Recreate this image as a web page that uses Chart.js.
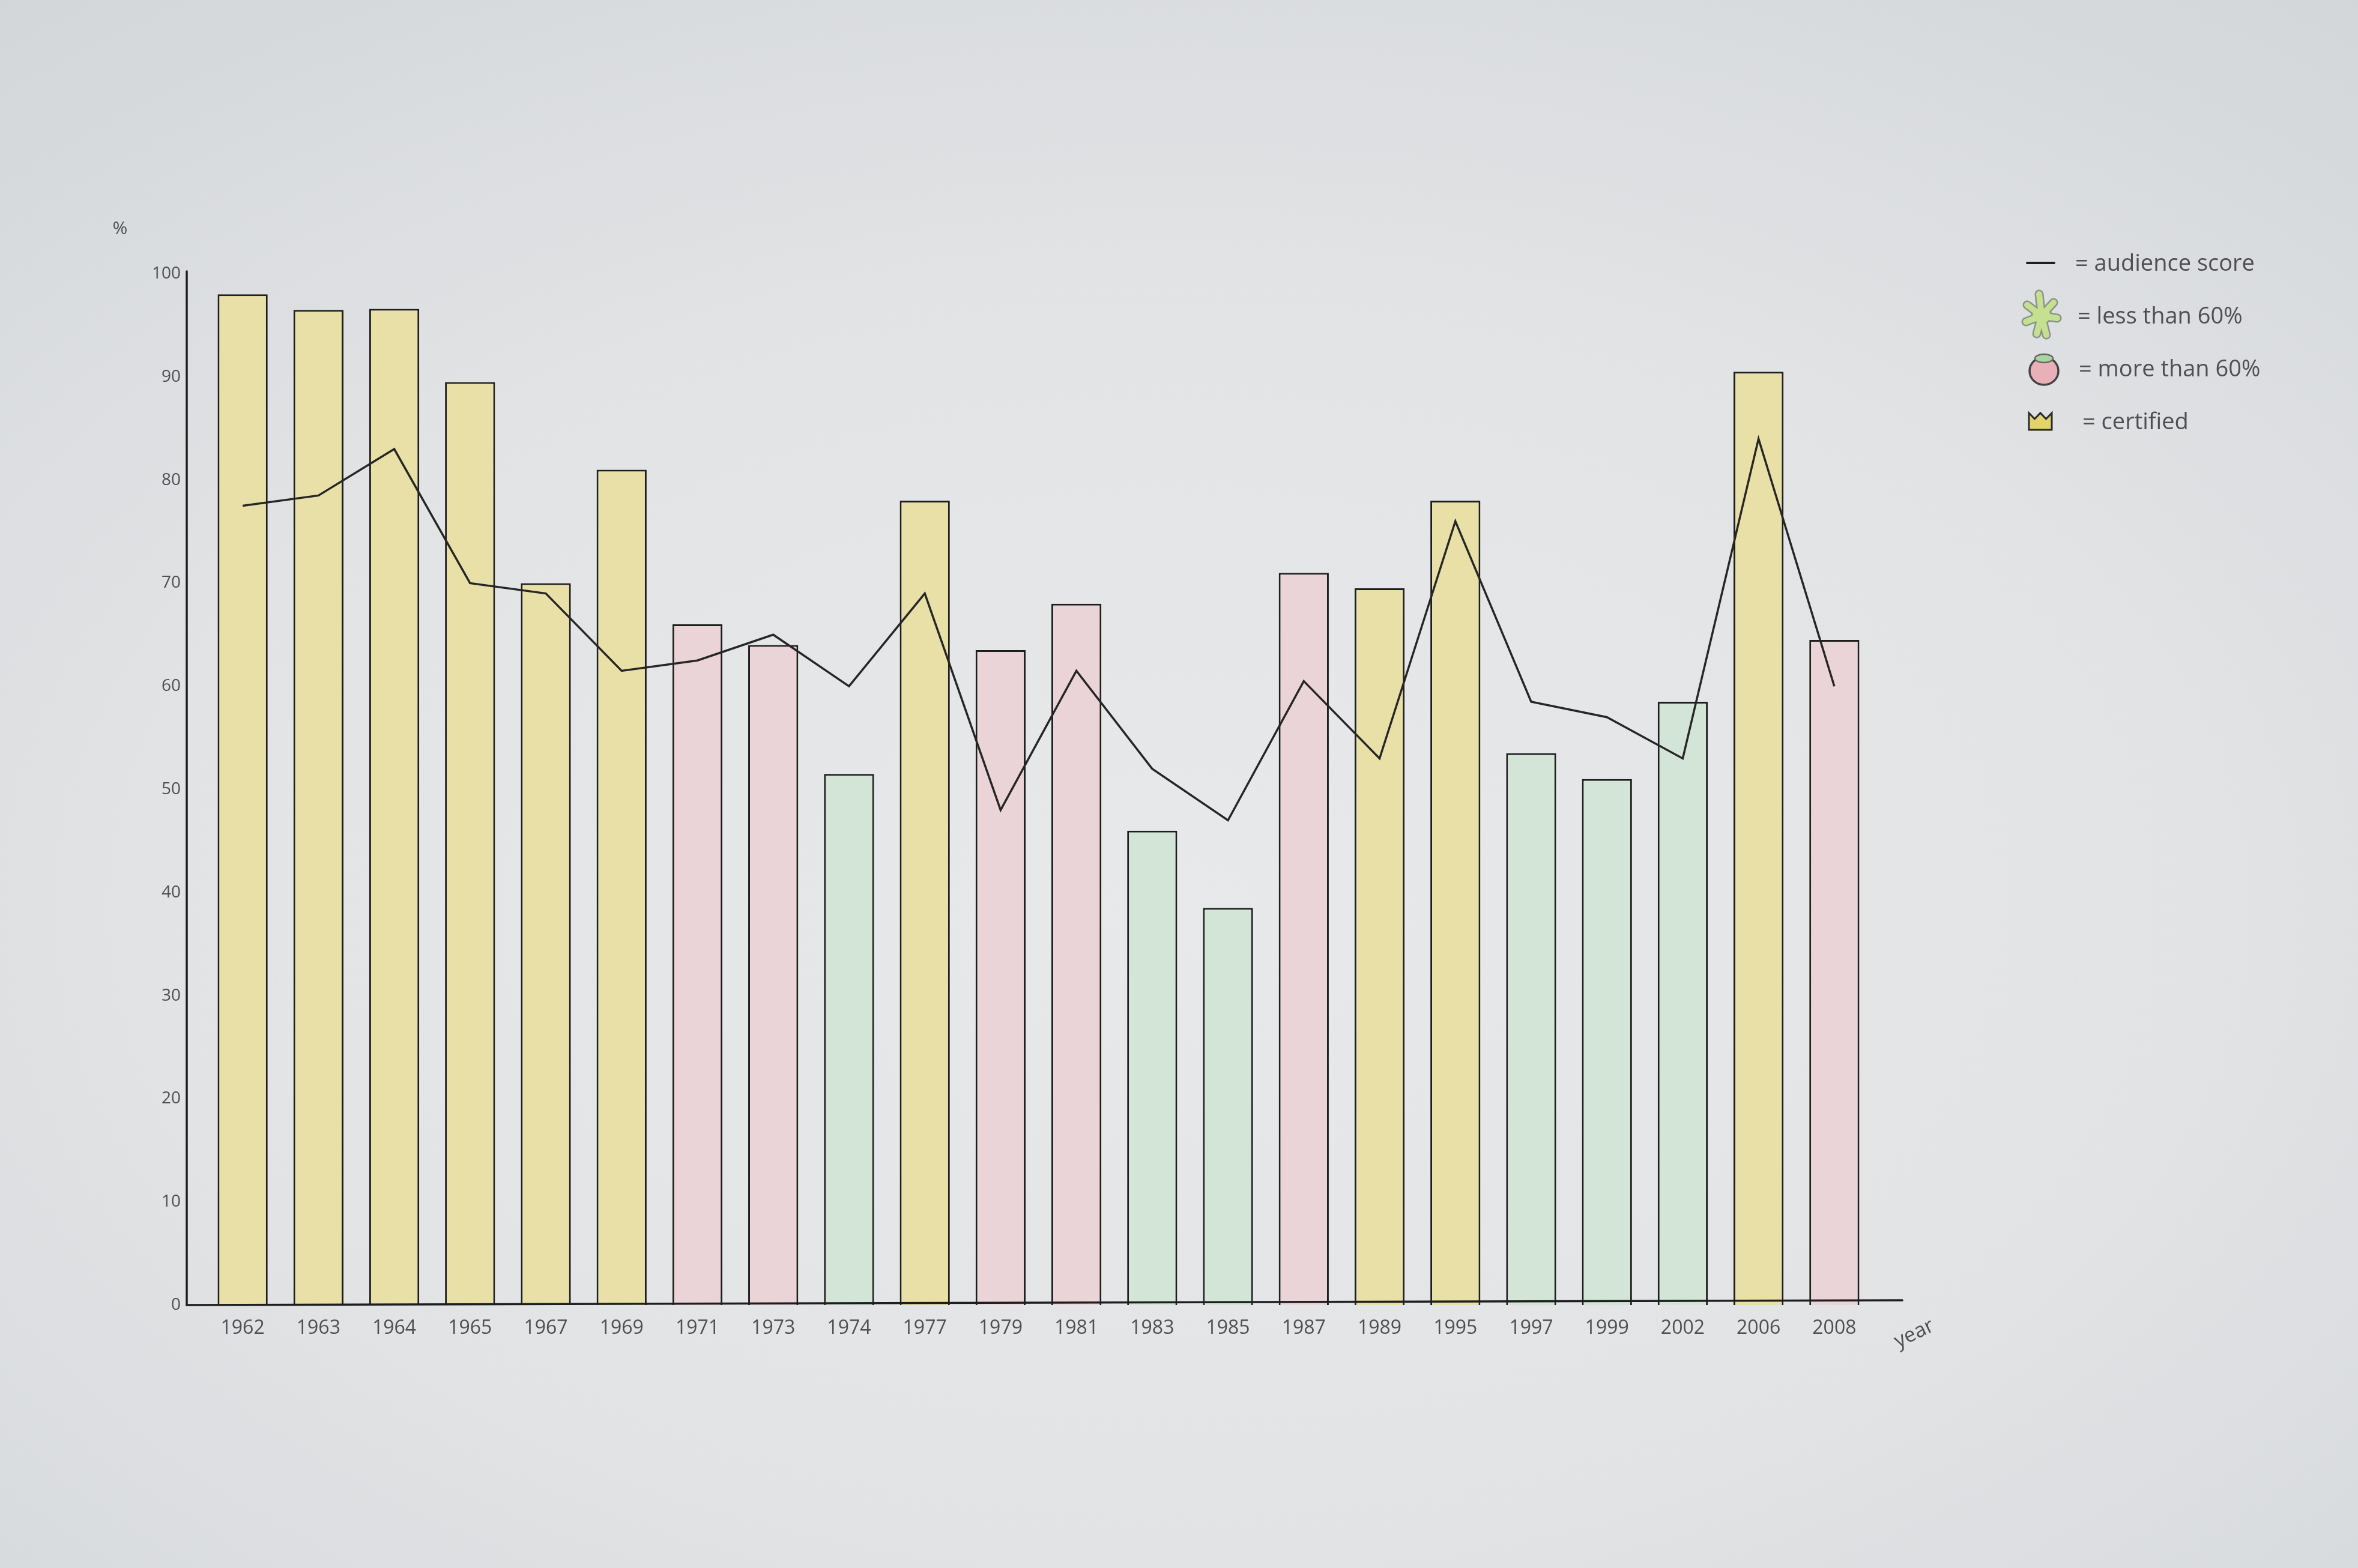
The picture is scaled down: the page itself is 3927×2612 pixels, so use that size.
<!DOCTYPE html>
<html><head><meta charset="utf-8">
<script src="https://cdn.jsdelivr.net/npm/chart.js@4"></script>
<style>
html,body{margin:0;padding:0;width:3927px;height:2612px;overflow:hidden;}
body{background: radial-gradient(ellipse 80% 75% at 50% 58%, #e7e9eb 0%, #e1e3e5 55%, #d3d6d9 100%);}
#wrap{position:absolute;left:0;top:0;width:3927px;height:2612px;}
</style></head><body>
<div id="wrap"><canvas id="c"></canvas></div>
<script>
// ---- data ----
const years = ['1962','1963','1964','1965','1967','1969','1971','1973','1974','1977','1979','1981','1983','1985','1987','1989','1995','1997','1999','2002','2006','2008'];
const criticScore = [98, 96.5, 96.6, 89.5, 70, 81, 66, 64, 51.5, 78, 63.5, 68, 46, 38.5, 71, 69.5, 78, 53.5, 51, 58.5, 90.5, 64.5];
const audienceScore = [77.5, 78.5, 83, 70, 69, 61.5, 62.5, 65, 60, 69, 48, 61.5, 52, 47, 60.5, 53, 76, 58.5, 57, 53, 84, 60];
const ratingClass = ['certified','certified','certified','certified','certified','certified','fresh','fresh','rotten','certified','fresh','fresh','rotten','rotten','fresh','certified','certified','rotten','rotten','rotten','certified','fresh'];
const yTickStep = 10;
const legendLabels = ['= audience score','= less than 60%','= more than 60%','= certified'];

// ---- styles ----
const classColor = {certified:'#e8e0a6', fresh:'#ebd4d7', rotten:'#d3e5d6'};
const ink = '#1e1e1e';
const penText = '#4d4f52';

function drawSplat(ctx, cx, cy){
  const arms = [[-24,-18],[-4,-36],[20,-22],[26,4],[-26,10],[-8,30],[8,32]];
  ctx.save(); ctx.lineCap='round';
  ctx.strokeStyle='#8a948c'; ctx.lineWidth=15;
  arms.forEach(a=>{ctx.beginPath();ctx.moveTo(cx,cy);ctx.lineTo(cx+a[0],cy+a[1]);ctx.stroke();});
  ctx.fillStyle='#8a948c'; ctx.beginPath(); ctx.ellipse(cx,cy,18,15,0,0,Math.PI*2); ctx.fill();
  ctx.strokeStyle='#c5e08f'; ctx.lineWidth=10;
  arms.forEach(a=>{ctx.beginPath();ctx.moveTo(cx,cy);ctx.lineTo(cx+a[0],cy+a[1]);ctx.stroke();});
  ctx.fillStyle='#c5e08f'; ctx.beginPath(); ctx.ellipse(cx,cy,15,12,0,0,Math.PI*2); ctx.fill();
  ctx.restore();
}
function drawTomato(ctx, cx, cy){
  ctx.save();
  ctx.fillStyle='#eab0b8'; ctx.strokeStyle='#444'; ctx.lineWidth=3.5;
  ctx.beginPath(); ctx.ellipse(cx,cy+4,24,23,0,0,Math.PI*2); ctx.fill(); ctx.stroke();
  ctx.fillStyle='#a9d6a0'; ctx.strokeStyle='#666'; ctx.lineWidth=2.5;
  ctx.beginPath(); ctx.ellipse(cx,cy-17,15,7,0,0,Math.PI*2); ctx.fill(); ctx.stroke();
  ctx.restore();
}
function drawCrown(ctx, cx, cy){
  ctx.save();
  const w=38,h=28,x=cx-w/2,y=cy-h/2;
  ctx.fillStyle='#e2d36c'; ctx.strokeStyle='#2a2a2a'; ctx.lineWidth=3;
  ctx.beginPath();
  ctx.moveTo(x,y); ctx.lineTo(x+w*0.25,y+h*0.35); ctx.lineTo(x+w*0.5,y); ctx.lineTo(x+w*0.75,y+h*0.35);
  ctx.lineTo(x+w,y); ctx.lineTo(x+w,y+h); ctx.lineTo(x,y+h); ctx.closePath();
  ctx.fill(); ctx.stroke();
  ctx.restore();
}

const decor = {
  id:'decor',
  afterDatasetsDraw(chart){
    const {ctx, chartArea:a} = chart;
    ctx.save();
    ctx.strokeStyle=ink; ctx.lineWidth=3.5; ctx.lineCap='round';
    ctx.beginPath(); ctx.moveTo(a.left-30, a.top-4); ctx.lineTo(a.left-30, a.bottom); ctx.stroke();
    ctx.beginPath(); ctx.moveTo(a.left-30, a.bottom); ctx.lineTo(a.right+50, a.bottom-8); ctx.stroke();
    // axis annotations
    ctx.fillStyle=penText; ctx.font='30px "Open Sans"'; ctx.textAlign='center'; ctx.textBaseline='middle';
    ctx.fillText('%', a.left-141, a.top-75);
    ctx.save(); ctx.translate(a.right+70, a.bottom+48); ctx.rotate(-0.45);
    ctx.font='34px "Open Sans"'; ctx.fillText('year',0,0); ctx.restore();
    // legend
    const lx = a.right+258;
    const rows = [a.top-18, a.top+70, a.top+158, a.top+246];
    ctx.strokeStyle=ink; ctx.lineWidth=4;
    ctx.beginPath(); ctx.moveTo(lx, rows[0]); ctx.lineTo(lx+45, rows[0]); ctx.stroke();
    drawSplat(ctx, lx+24, rows[1]);
    drawTomato(ctx, lx+28, rows[2]);
    drawCrown(ctx, lx+22, rows[3]);
    ctx.fillStyle=penText; ctx.font='38px "Open Sans"'; ctx.textAlign='left';
    const tx=[lx+80, lx+84, lx+86, lx+92];
    legendLabels.forEach((t,i)=>ctx.fillText(t, tx[i], rows[i]+2));
    ctx.restore();
  }
};

new Chart(document.getElementById('c'), {
  data:{
    labels: years,
    datasets:[
      {type:'line', label:'audience score', data: audienceScore, borderColor:'#262626', borderWidth:3.5,
       pointRadius:0, tension:0, fill:false, order:0},
      {type:'bar', label:'critics score', data: criticScore,
       backgroundColor: ratingClass.map(c=>classColor[c]),
       borderColor: ink, borderWidth:3, borderSkipped:'bottom',
       barPercentage:0.66, categoryPercentage:1, order:1}
    ]
  },
  options:{
    responsive:true, maintainAspectRatio:false, animation:false,
    layout:{padding:{left:0, top:456, right:809, bottom:338}},
    plugins:{legend:{display:false}, tooltip:{enabled:false}},
    scales:{
      x:{type:'category', grid:{display:false, drawTicks:false}, border:{display:false},
         ticks:{font:{size:32, family:'"Open Sans"'}, color:penText, padding:20, maxRotation:0, autoSkip:false},
         afterFit(s){ s.height = 100; }},
      y:{min:0, max:100, grid:{display:false, drawTicks:false}, border:{display:false},
         ticks:{stepSize:yTickStep, font:{size:28, family:'"Open Sans"'}, color:penText, padding:40},
         afterFit(s){ s.width = 341; }}
    }
  },
  plugins:[decor]
});
</script>
</body></html>
